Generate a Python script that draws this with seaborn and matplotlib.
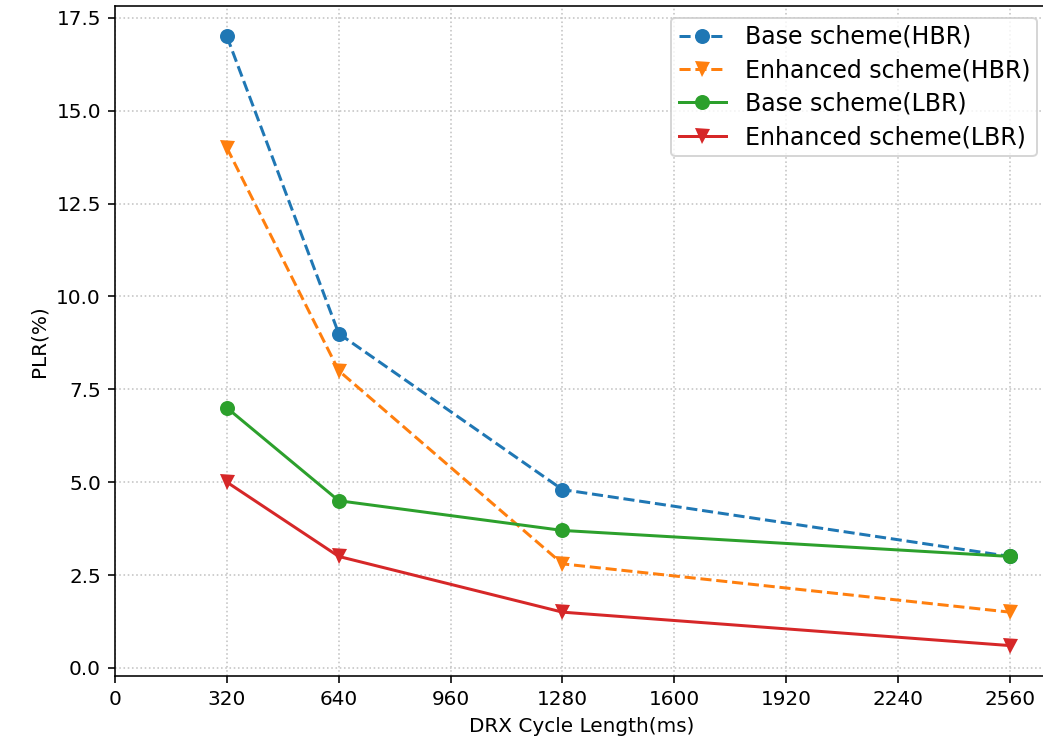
import matplotlib
matplotlib.use("Agg")
import matplotlib.pyplot as plt
import seaborn as sns
import pandas as pd

drx = [320, 640, 1280, 2560]
base_hbr = [17.0, 9.0, 4.8, 3.0]
enh_hbr = [14.0, 8.0, 2.8, 1.5]
base_lbr = [7.0, 4.5, 3.7, 3.0]
enh_lbr = [5.0, 3.0, 1.5, 0.6]
xticks = [0, 320, 640, 960, 1280, 1600, 1920, 2240, 2560]

series = [
    ("Base scheme(HBR)", base_hbr, "o", "--", "#1f77b4"),
    ("Enhanced scheme(HBR)", enh_hbr, "v", "--", "#ff7f0e"),
    ("Base scheme(LBR)", base_lbr, "o", "-", "#2ca02c"),
    ("Enhanced scheme(LBR)", enh_lbr, "v", "-", "#d62728"),
]

fig, ax = plt.subplots(figsize=(1043 / 144, 747 / 144), dpi=144)
fig.subplots_adjust(left=0.1103, right=1049 / 1043, top=0.992, bottom=0.095)

for name, vals, mk, ls, col in series:
    df = pd.DataFrame({"x": drx, "y": vals})
    sns.lineplot(data=df, x="x", y="y", ax=ax, marker=mk, linestyle=ls,
                 color=col, label=name, markersize=7.5, linewidth=1.5,
                 markeredgewidth=0)

ax.set_xticks(xticks)
ax.set_xlim(0, 2672)
ax.grid(True, linestyle=":", color="#c4c4c4", linewidth=0.8)
ax.set_xlabel("DRX Cycle Length(ms)")
ax.set_ylabel("PLR(%)")
ax.legend(loc="upper right", fontsize=11.8, labelspacing=0.4, borderpad=0.3)
fig.savefig("out.png", dpi=144)
